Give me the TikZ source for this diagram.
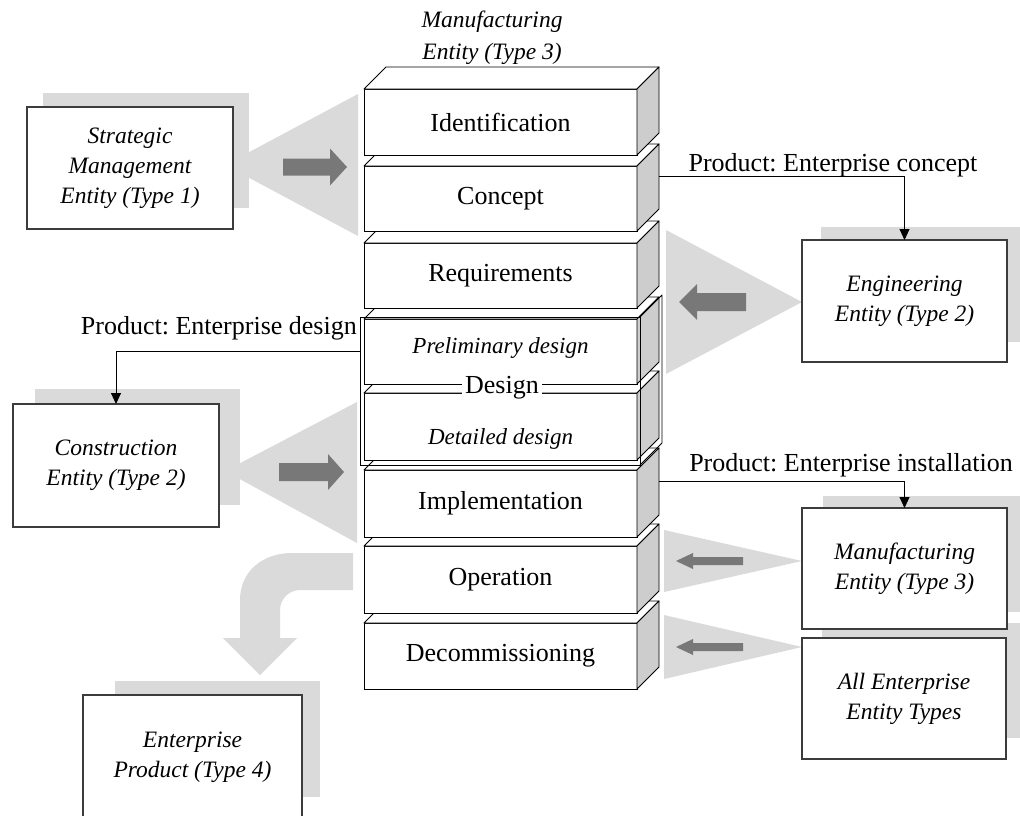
\documentclass[tikz,border=0pt]{standalone}
\usepackage{fontspec}
\setmainfont{Liberation Serif}
\usetikzlibrary{arrows.meta}
\frenchspacing
\definecolor{lg}{RGB}{218,218,218}
\definecolor{dg}{RGB}{120,120,120}
\definecolor{facegray}{RGB}{205,205,205}
\definecolor{bd}{RGB}{60,60,60}
\newcommand\blk[4]{%
  \node[front, minimum height={#3-#2}] (#1) at (500.5,{(#2+#3)/2}) {#4};
  \path[facet] (#1.north west) -- ++(22,-22) -- ++(273,0) -- (#1.north east) -- cycle;
  \path[facer] (#1.north east) -- ++(22,-22) -- ++(0,{#3-#2}) -- (#1.south east) -- cycle;
}
\newcommand\bigarr[6]{%
  \fill[dg] (#1,{#4-#5}) -- (#3,{#4-#5}) -- (#3,{#4-#6}) -- (#2,#4) -- (#3,{#4+#6}) -- (#3,{#4+#5}) -- (#1,{#4+#5}) -- cycle;
}
\begin{document}
\begin{tikzpicture}[x=1pt,y=-1pt,
  front/.style={draw=black, fill=white, line width=0.9pt, minimum width=273pt, inner sep=0pt, outer sep=0pt, font=\fontsize{26}{30}\selectfont},
  ent/.style={draw=bd, fill=white, line width=1.1pt, inner sep=0pt, outer sep=0pt, align=center, font=\fontsize{23.5}{30}\selectfont\itshape},
  lbl/.style={font=\fontsize{26}{30}\selectfont, inner sep=1pt},
  itlbl/.style={font=\fontsize{23}{30}\selectfont\itshape, inner sep=1pt},
  conn/.style={line width=0.9pt, -{Triangle[width=10pt,length=11pt]}},
  facer/.style={fill=facegray, draw=black, line width=0.9pt, line join=round},
  facet/.style={fill=white, draw=black, line width=0.9pt, line join=round}]
\useasboundingbox (0,0) rectangle (1020,816);

% shadows
\fill[lg] (43,93) rectangle (249,208);
\fill[lg] (821,227) rectangle (1020,342);
\fill[lg] (35,389) rectangle (240,505);
\fill[lg] (823,496) rectangle (1020,612);
\fill[lg] (822,623) rectangle (1020,738);
\fill[lg] (115,681) rectangle (320,797);

% funnels
\fill[lg] (225,165) -- (358,94) -- (358,236) -- cycle;
\fill[lg] (225,471) -- (357,402) -- (357,543) -- cycle;
\fill[lg] (802,302) -- (666,230) -- (666,374) -- cycle;
\fill[lg] (802,561) -- (664,530) -- (664,592) -- cycle;
\fill[lg] (802,647) -- (664,615) -- (664,679) -- cycle;

% curved arrow
\fill[lg] (353,553) -- (292,553) .. controls (263,553) and (240,571) .. (240,600) -- (240,638) -- (223,638) -- (260,675) -- (297,638) -- (280,638) -- (280,610) .. controls (280,599) and (289,590) .. (300,590) -- (353,590) -- cycle;

% dark block arrows
\bigarr{283}{347}{330}{167}{8.5}{18.5}
\bigarr{279}{344}{328}{472}{9}{18}
\bigarr{746}{679}{697}{302}{9}{18}
\bigarr{743}{676}{693}{561}{4}{8}
\bigarr{743}{676}{693}{647}{4}{8}

% entity boxes
\node[ent, minimum width=206pt, minimum height=122pt] (strat) at (130,168) {Strategic\\Management\\Entity (Type 1)};
\node[ent, minimum width=205pt, minimum height=122pt] (eng) at (904.5,301) {Engineering\\Entity (Type 2)};
\node[ent, minimum width=206pt, minimum height=123pt] (cons) at (116,465.5) {Construction\\Entity (Type 2)};
\node[ent, minimum width=205pt, minimum height=121pt] (manu) at (904.5,568.5) {Manufacturing\\Entity (Type 3)};
\node[ent, minimum width=204pt, minimum height=121pt] (allt) at (904,698.5) {All Enterprise\\Entity Types};
\node[ent, minimum width=219pt, minimum height=124pt] (prod) at (192.5,757) {Enterprise\\Product (Type 4)};

% stack (bottom to top)
\blk{decom}{623}{689}{Decommissioning}
\blk{oper}{546}{613}{Operation}
\blk{impl}{470}{537}{Implementation}
\blk{detail}{393}{460}{}
\blk{prelim}{319}{384}{}
\node[itlbl] (detailtxt) at (500.5,439) {Detailed design};
\node[itlbl] (prelimtxt) at (500.5,348) {Preliminary design};
\node[draw=black, line width=0.9pt, minimum width=280pt, minimum height=148pt, inner sep=0pt, outer sep=0pt] (design) at (500,391) {};
\draw[line width=0.9pt, line join=round] (design.north east) -- ++(22,-22) -- ++(0,148) -- (design.south east);
\node[lbl, fill=white, inner sep=3pt] (designlbl) at (502,388) {Design};
\blk{req}{243}{308}{Requirements}
\blk{concept}{166}{231}{Concept}
\blk{ident}{89}{155}{Identification}

% top label
\node[font=\fontsize{23.5}{32}\selectfont\itshape, align=center] (toplbl) at (492,38) {Manufacturing\\Entity (Type 3)};

% connectors
\draw[conn] ([xshift=22pt,yshift=22pt]concept.east) -| (eng.north);
\draw[conn] ([yshift=40pt]design.west) -| (cons.north);
\draw[conn] ([xshift=22pt,yshift=22pt]impl.east) -| (manu.north);
\node[lbl] (lconcept) at (833,165) {Product: Enterprise concept};
\node[lbl, anchor=east] (ldesign) at (358,328) {Product: Enterprise design};
\node[lbl] (linstall) at (851,465) {Product: Enterprise installation};
\end{tikzpicture}
\end{document}
